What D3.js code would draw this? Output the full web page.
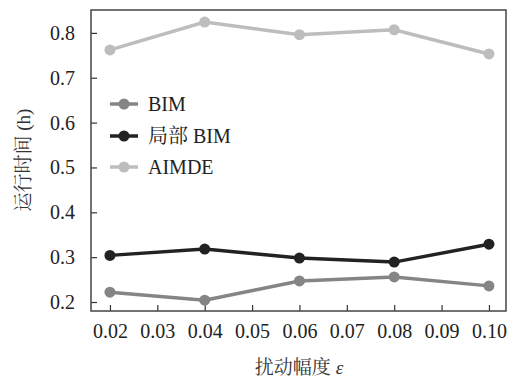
<!DOCTYPE html>
<html><head><meta charset="utf-8">
<script src="https://cdn.jsdelivr.net/npm/d3@7/dist/d3.min.js"></script>
<style>body{margin:0;background:#fff}</style>
</head><body><svg id="c" width="511" height="379"></svg>
<script>
const xValues = [0.02, 0.04, 0.06, 0.08, 0.10];
const bim = [0.222, 0.204, 0.247, 0.256, 0.236];
const localBim = [0.304, 0.318, 0.298, 0.289, 0.329];
const aimde = [0.762, 0.824, 0.796, 0.807, 0.753];
const seriesNames = ["BIM", "局部 BIM", "AIMDE"];
const seriesColors = ["#858585", "#222222", "#bdbdbd"];
const xTicks = [0.02, 0.03, 0.04, 0.05, 0.06, 0.07, 0.08, 0.09, 0.10];
const yTicks = [0.2, 0.3, 0.4, 0.5, 0.6, 0.7, 0.8];

const LAT = "Liberation Serif";
const CJK = "Noto Serif CJK SC";
const svg = d3.select("#c");
const m = {l: 91, t: 10, r: 506, b: 311};
const x = d3.scaleLinear().domain([0.016, 0.1036]).range([m.l, m.r]);
const y = d3.scaleLinear().domain([0.18, 0.851]).range([m.b, m.t]);

// write text, splitting CJK runs into a serif CJK font
function richText(sel, str) {
  str.split(/([\u4e00-\u9fff]+)/).filter(s => s.length).forEach(part => {
    const cjk = /[\u4e00-\u9fff]/.test(part);
    sel.append("tspan").attr("font-family", cjk ? CJK : LAT).text(part);
  });
  return sel;
}

const xa = svg.append("g").attr("transform", `translate(0,${m.b})`)
  .call(d3.axisBottom(x).tickValues(xTicks).tickFormat(d3.format(".2f")).tickSizeInner(-6).tickSizeOuter(0).tickPadding(13));
const ya = svg.append("g").attr("transform", `translate(${m.l},0)`)
  .call(d3.axisLeft(y).tickValues(yTicks).tickFormat(d3.format(".1f")).tickSizeInner(-6).tickSizeOuter(0).tickPadding(16));
[xa, ya].forEach(a => {
  a.attr("font-family", LAT).attr("font-size", 20);
  a.select(".domain").remove();
  a.selectAll("line").attr("stroke", "#333").attr("stroke-width", 1.2);
  a.selectAll("text").attr("fill", "#222");
});
svg.append("rect").attr("x", m.l).attr("y", m.t).attr("width", m.r - m.l).attr("height", m.b - m.t)
  .attr("fill", "none").attr("stroke", "#444").attr("stroke-width", 1.5);

const all = [bim, localBim, aimde];
const line = d3.line().x((d, i) => x(xValues[i])).y(d => y(d));
all.forEach((s, k) => {
  svg.append("path").datum(s).attr("d", line).attr("fill", "none")
    .attr("stroke", seriesColors[k]).attr("stroke-width", 3.5);
  svg.selectAll(null).data(s).enter().append("circle")
    .attr("cx", (d, i) => x(xValues[i])).attr("cy", d => y(d)).attr("r", 5.5)
    .attr("fill", seriesColors[k]);
});

const ly = [104, 136, 167];
seriesNames.forEach((n, k) => {
  svg.append("line").attr("x1", 110).attr("x2", 138).attr("y1", ly[k]).attr("y2", ly[k])
    .attr("stroke", seriesColors[k]).attr("stroke-width", 3.5);
  svg.append("circle").attr("cx", 124).attr("cy", ly[k]).attr("r", 5.5).attr("fill", seriesColors[k]);
  richText(svg.append("text").attr("x", 148).attr("y", ly[k]).attr("dy", "0.35em")
    .attr("font-size", 20).attr("font-family", LAT).attr("fill", "#222"), n);
});

richText(svg.append("text").attr("transform", "translate(23,160) rotate(-90)").attr("text-anchor", "middle")
  .attr("dy", "0.35em").attr("font-size", 19).attr("font-family", LAT).attr("fill", "#333"), "运行时间 (h)");
const xl = richText(svg.append("text").attr("x", 299).attr("y", 374).attr("text-anchor", "middle")
  .attr("font-size", 19).attr("font-family", LAT).attr("fill", "#333"), "扰动幅度 ");
xl.append("tspan").attr("font-family", LAT).attr("font-style", "italic").text("ε");
</script></body></html>
